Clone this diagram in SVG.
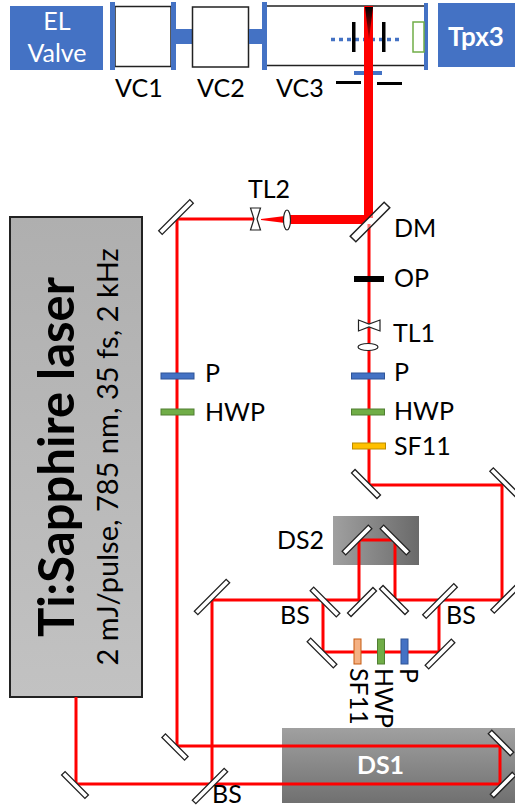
<svg xmlns="http://www.w3.org/2000/svg" width="515" height="808" viewBox="0 0 515 808">
<style>
text{font-family:Lato,"Liberation Sans",sans-serif;fill:#000;font-size:25px}
.w{fill:#fff}
.b{fill:#4472C4}
.bs{fill:#4472C4;stroke:#2F5597;stroke-width:1}
.g{fill:#70AD47;stroke:#507E32;stroke-width:1}
.o{fill:#F4B183;stroke:#C55A11;stroke-width:1}
.y{fill:#FFC000;stroke:#BC8C00;stroke-width:1}
.m{fill:#fff;stroke:#222;stroke-width:1.3}
.box{fill:#fff;stroke:#222;stroke-width:1.5}
.l{stroke:#222;stroke-width:1.5;fill:none}
.k{fill:#000}
.beam{fill:none;stroke:#f00;stroke-width:3}
.lens{fill:#fff;stroke:#222;stroke-width:1.2}
</style>
<defs>
<linearGradient id="gh" x1="0" x2="1" y1="0" y2="0"><stop offset="0" stop-color="#a0a0a0"/><stop offset="1" stop-color="#6a6a6a"/></linearGradient>
<linearGradient id="gv" x1="0" x2="0" y1="0" y2="1"><stop offset="0" stop-color="#a0a0a0"/><stop offset="1" stop-color="#707070"/></linearGradient>
<linearGradient id="gl" x1="0" x2="0" y1="0" y2="1"><stop offset="0" stop-color="#AFAFAF"/><stop offset="1" stop-color="#C2C2C2"/></linearGradient>
<linearGradient id="gt" x1="0" x2="0" y1="0" y2="1"><stop offset="0" stop-color="#000"/><stop offset="1" stop-color="#c00"/></linearGradient>
</defs>
<g id="el-valve"><rect class="b" x="10" y="6" width="93" height="64"/><text class="w" x="57" y="30" text-anchor="middle">EL</text><text class="w" x="57" y="62" text-anchor="middle">Valve</text></g>
<g id="vc1"><rect class="box" x="115" y="6.500" width="56" height="60"/><rect class="b" x="110" y="2" width="5" height="68"/><rect class="b" x="171" y="2" width="5" height="68"/><text x="115" y="97">VC1</text></g>
<g id="tube1"><rect class="b" x="176" y="29" width="16" height="15"/></g>
<g id="vc2"><rect class="box" x="192.500" y="7" width="56" height="60"/><text x="197" y="97">VC2</text></g>
<g id="tube2"><rect class="b" x="249" y="29" width="13" height="15"/></g>
<g id="vc3"><path class="l" d="M267 6H425M267 65.500H425"/><rect class="b" x="262" y="2" width="5" height="68"/><rect class="b" x="424" y="3" width="4" height="67"/><text x="276" y="97">VC3</text></g>
<g id="tpx3"><rect class="b" x="438" y="3" width="77" height="64"/><text class="w" x="476" y="46" text-anchor="middle" font-weight="700" style="font-size:26px">Tpx3</text></g>
<g id="detector"><path d="M331 39.500H399" fill="none" stroke="#4472C4" stroke-width="3.500" stroke-dasharray="4 4"/><rect class="k" x="352" y="22" width="3.500" height="30"/><rect class="k" x="382" y="22" width="3.500" height="30"/><rect x="413" y="22" width="11" height="30" fill="#fff" stroke="#70AD47" stroke-width="1.500"/></g>
<g id="laser"><rect x="10" y="217" width="132" height="480" fill="url(#gl)" stroke="#222" stroke-width="2"/><text transform="translate(74 457) rotate(-90)" text-anchor="middle" font-weight="700" style="font-size:49px">Ti:Sapphire laser</text><text transform="translate(118 457) rotate(-90)" text-anchor="middle" style="font-size:29px">2 mJ/pulse, 785 nm, 35 fs, 2 kHz</text></g>
<g id="ds1-stage"><rect x="282" y="728" width="233" height="75" fill="url(#gv)"/><text class="w" x="380.500" y="774" text-anchor="middle" font-weight="700" style="font-size:25px">DS1</text></g>
<g id="ds2-stage"><rect x="333" y="516" width="86" height="49" fill="url(#gh)"/><text x="277" y="549">DS2</text></g>
<g id="slit-plate"><rect class="b" x="354" y="71" width="28" height="4"/><rect class="k" x="336" y="81" width="25" height="3"/><rect class="k" x="377" y="82" width="25" height="3"/></g>
<g id="connectors">
<rect x="364" y="6" width="9" height="212" fill="#f00"/>
<polygon points="289,215 372,215 372,216 362,224 289,224" fill="#f00"/>
<polygon points="261,219 285,216 285,223 261,220" fill="#f00"/>
<path class="beam" d="M76 697V784H500V746H177V219H256"/>
<path class="beam" d="M369 224V485H502V600H395V540H359V600H212V784"/>
<path class="beam" d="M323 600V652H439V600"/>
</g>
<g id="aperture-slit"><polygon points="365,7 373,7 369,40" fill="url(#gt)"/></g>
<g id="tl2"><polygon class="lens" points="250.500,208 260.500,208 257,219 260.500,230 250.500,230 254,219"/><ellipse class="lens" cx="287" cy="220" rx="3.500" ry="10"/><text x="248" y="198">TL2</text></g>
<g id="dm"><rect x="-24" y="-4" width="48" height="8" fill="#fff" fill-opacity=".45" stroke="#222" stroke-width="1.500" transform="translate(370 222) rotate(-45)"/><text x="394" y="237">DM</text></g>
<g id="op"><rect class="k" x="354" y="276" width="30" height="6"/><text x="394" y="287">OP</text></g>
<g id="tl1"><polygon class="lens" points="358.500,320 358.500,331 369,327 380,331 380,320 369,324"/><ellipse class="lens" cx="368" cy="347" rx="10" ry="3.500"/><text x="393" y="342">TL1</text></g>
<g id="p-left"><rect class="bs" x="161" y="373" width="33" height="6"/><text x="205" y="382">P</text></g>
<g id="hwp-left"><rect class="g" x="161" y="409" width="33" height="6"/><text x="205" y="421">HWP</text></g>
<g id="p-right"><rect class="bs" x="351.500" y="373" width="33" height="6"/><text x="394" y="381">P</text></g>
<g id="hwp-right"><rect class="g" x="351.500" y="409" width="33" height="6"/><text x="394" y="420">HWP</text></g>
<g id="sf11-right"><rect class="y" x="352.500" y="443" width="33" height="6"/><text x="394" y="455">SF11</text></g>
<g id="sf11-loop"><rect class="o" x="354" y="639" width="7" height="25"/><text transform="translate(350 668) rotate(90)">SF11</text></g>
<g id="hwp-loop"><rect class="g" x="377.500" y="639" width="7" height="25"/><text transform="translate(375 668) rotate(90)">HWP</text></g>
<g id="p-loop"><rect class="bs" x="401" y="639" width="7" height="25"/><text transform="translate(400 668) rotate(90)">P</text></g>
<g id="mirror-1"><rect class="m" x="-22" y="-2.500" width="44" height="5" transform="translate(176 217) rotate(-45)"/></g>
<g id="mirror-2"><rect class="m" x="-18" y="-2.500" width="36" height="5" transform="translate(366 484) rotate(45)"/></g>
<g id="mirror-3"><rect class="m" x="-19" y="-2.500" width="38" height="5" transform="translate(505 483) rotate(45)"/></g>
<g id="mirror-4"><rect class="m" x="-19" y="-2.500" width="38" height="5" transform="translate(506 598) rotate(-45)"/></g>
<g id="ds2-mirror-1"><rect class="m" x="-18.500" y="-2.500" width="37" height="5" transform="translate(357 540) rotate(-45)"/></g>
<g id="ds2-mirror-2"><rect class="m" x="-18.500" y="-2.500" width="37" height="5" transform="translate(395 540) rotate(45)"/></g>
<g id="ds2-mirror-3"><rect class="m" x="-18" y="-2.500" width="36" height="5" transform="translate(362 602) rotate(-45)"/></g>
<g id="ds2-mirror-4"><rect class="m" x="-18" y="-2.500" width="36" height="5" transform="translate(394 600) rotate(45)"/></g>
<g id="bs-left"><rect class="m" x="-18.500" y="-2.500" width="37" height="5" transform="translate(325 602) rotate(45)"/><text x="280" y="624">BS</text></g>
<g id="bs-right"><rect class="m" x="-22" y="-2.500" width="44" height="5" transform="translate(440 601) rotate(-45)"/><text x="446" y="624">BS</text></g>
<g id="mirror-5"><rect class="m" x="-18.500" y="-2.500" width="37" height="5" transform="translate(322 653) rotate(45)"/></g>
<g id="mirror-6"><rect class="m" x="-18.500" y="-2.500" width="37" height="5" transform="translate(440 654) rotate(-45)"/></g>
<g id="mirror-7"><rect class="m" x="-22.500" y="-2.500" width="45" height="5" transform="translate(212 597) rotate(-45)"/></g>
<g id="mirror-8"><rect class="m" x="-16" y="-2.500" width="32" height="5" transform="translate(175 747) rotate(45)"/></g>
<g id="mirror-9"><rect class="m" x="-16.500" y="-2.500" width="33" height="5" transform="translate(75 785) rotate(45)"/></g>
<g id="bs-bottom"><rect class="m" x="-22.500" y="-2.500" width="45" height="5" transform="translate(210 786) rotate(-45)"/><text x="212" y="803">BS</text></g>
<g id="ds1-mirror-1"><rect class="m" x="-15.500" y="-2.500" width="31" height="5" transform="translate(501 743) rotate(45)"/></g>
<g id="ds1-mirror-2"><rect class="m" x="-15.500" y="-2.500" width="31" height="5" transform="translate(503 785) rotate(-45)"/></g>
</svg>
